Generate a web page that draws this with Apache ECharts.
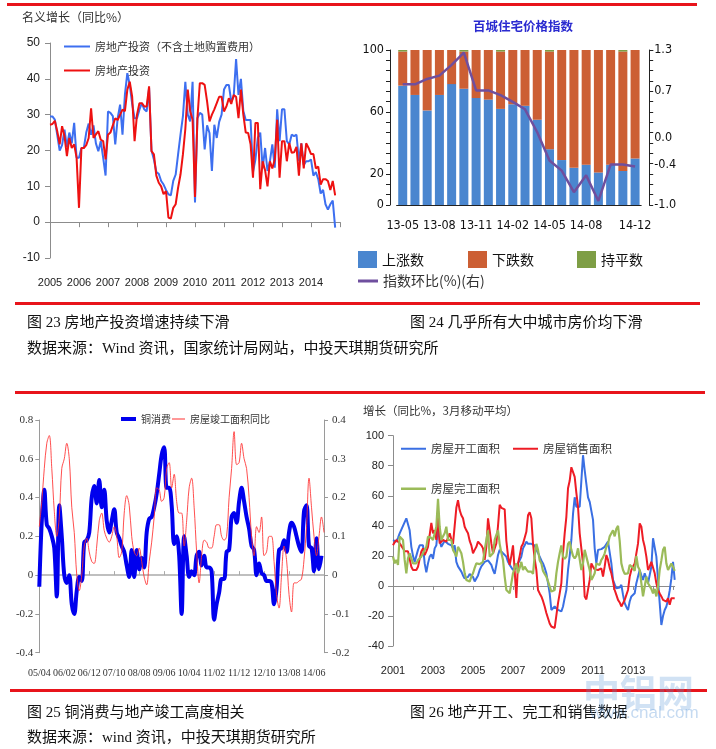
<!DOCTYPE html>
<html><head><meta charset="utf-8">
<script src="https://cdn.jsdelivr.net/npm/echarts@6/dist/echarts.min.js"></script>
<style>
body{margin:0;background:#fff;width:716px;height:749px;overflow:hidden;position:relative;}
#c{position:absolute;left:0;top:0;width:716px;height:749px;}
.rl{position:absolute;background:#e8141b;height:3px;z-index:2;}
.cap{position:absolute;z-index:2;font-size:15px;line-height:18px;color:#111;white-space:nowrap;font-family:"Liberation Serif","Noto Sans CJK SC",serif;}
.wm{position:absolute;z-index:3;white-space:nowrap;font-family:"Noto Sans CJK SC",sans-serif;}
</style></head>
<body>
<div id="c"></div>
<div class="rl" style="left:7px;top:3px;width:690px;"></div>
<div class="rl" style="left:15px;top:302px;width:685px;"></div>
<div class="rl" style="left:15px;top:391px;width:690px;"></div>
<div class="rl" style="left:10px;top:689px;width:697px;"></div>
<div class="cap" style="left:27px;top:313px;">图 23 房地产投资增速持续下滑</div>
<div class="cap" style="left:410px;top:313px;">图 24 几乎所有大中城市房价均下滑</div>
<div class="cap" style="left:27px;top:339px;">数据来源：Wind 资讯，国家统计局网站，中投天琪期货研究所</div>
<div class="cap" style="left:27px;top:703px;">图 25 铜消费与地产竣工高度相关</div>
<div class="cap" style="left:410px;top:703px;">图 26 地产开工、完工和销售数据</div>
<div class="cap" style="left:27px;top:728px;">数据来源：wind 资讯，中投天琪期货研究所</div>
<div class="wm" style="left:583px;top:664px;font-size:37px;font-weight:bold;color:rgba(90,150,215,0.28);">中铝网</div>
<div class="wm" style="left:590px;top:703px;font-size:17px;color:rgba(90,150,215,0.35);font-family:'Liberation Sans',sans-serif;">www.cnal.com</div>
<script>
// ---------- helpers ----------
function months(y, m, n) {
  const out = [];
  for (let k = 0; k < n; k++) {
    const yy = y + Math.floor((m - 1 + k) / 12), mm = (m - 1 + k) % 12 + 1;
    out.push(yy + '-' + String(mm).padStart(2, '0'));
  }
  return out;
}
// ---------- chart 1 data (2005-01 .. 2014-11) ----------
const cat1 = months(2005, 1, 121);
const invExLand = [
  29.5,29.5,28.6,24.4,20,21.5,25.8,21,25,22,27.7,18,
  18,20.7,20.7,25,27.5,24.4,27,22,19.8,22.6,18,13,
  30.9,30.5,29.6,21.7,29,32.8,24.4,35.6,41.6,38.3,33,29,
  29,31.4,33.2,31.5,30.9,37.4,20,17.5,14,13.5,11.5,10.5,
  9,7.8,7.5,11.5,13.3,18.9,24.4,29.5,39.2,30,28.1,39.2,
  5.5,29,30.5,30,20.3,27,24.9,14.3,27.2,23.5,28,30,
  37,38.3,38.3,33.7,35,45.5,35.5,40,31,28.5,28.5,28.5,
  14,17.5,23.5,25,15,20.7,14.3,17,21.7,15.2,31.5,22.6,
  31.5,31.5,22.6,21.7,24.4,24,24.4,17,22,16,17,17,
  17.5,13,14,12,8,9,5,3.5,5,6,-1.5
];
const inv = [
  27.2,27.4,28.3,25.4,21.7,26.8,24,18.4,23.5,20.7,21.7,18,
  4,20.7,20.7,21.5,23.5,31.8,23.5,24.5,25.4,23,22.6,17.5,
  24.4,25,27,29,28.5,30,31.4,31,37,39.2,35,22.6,
  30,33.2,33.2,32.3,32.3,37.9,19.8,18.9,13,11,10,7.8,
  8.7,1.3,1,4,5,9.6,13.3,18.9,26,37,31,28.6,
  7,29,38.8,38.8,38.3,33.7,28.1,30,31.5,33.2,35,35,
  30.9,32.3,34.6,33,35.5,35,29,37,30,25,24.9,21.7,
  12.4,27.7,27.7,9.2,17,14.5,10,17,15,17.5,28.6,12.4,
  22.6,22.6,17,22.1,19.4,19.5,21,13,22,15,22,20.7,
  19,19,15,15.5,10.5,12,12,11.5,9,11.5,7.5
];
// ---------- chart 2 data ----------
const months2 = ['13-05','13-06','13-07','13-08','13-09','13-10','13-11','13-12','14-01','14-02','14-03','14-04','14-05','14-06','14-07','14-08','14-09','14-10','14-11','14-12'];
const upCount   = [77,71,61,71,78,75,69,68,62,65,64,55,36,29,24,26,21,26,22,30];
const downCount = [22,29,39,29,22,24,31,32,37,35,36,45,63,71,76,74,79,74,77,70];
const flatCount = [1,0,0,0,0,1,0,0,1,0,0,0,1,0,0,0,0,0,1,0];
const indexMoM  = [0.79,0.79,0.87,0.92,1.08,1.26,0.70,0.70,0.63,0.53,0.42,0.08,-0.34,-0.49,-0.81,-0.56,-0.94,-0.40,-0.40,-0.43];
const labelIdx2 = [0,3,6,9,12,15,19];
const leftLabels2 = [0,20,60,100];
const rightLabels2 = [-1,-0.4,0,0.7,1.3];
// ---------- chart 3 data (2005-04 .. 2014-10) ----------
const cat3 = months(2005, 4, 115);
const copper = [
  -0.06,0.28,0.44,0.26,0.24,0.20,0.14,-0.11,0.36,0.20,
  0.0,-0.04,0.0,-0.15,-0.20,-0.08,-0.01,-0.03,0.17,0.18,
  0.22,0.40,0.46,0.37,0.49,0.35,0.44,0.28,0.22,0.28,
  0.34,0.22,0.19,0.15,0.12,0.05,-0.01,0.13,-0.01,0.13,
  0.03,0.09,0.04,0.22,0.29,0.30,0.35,0.42,0.52,0.62,
  0.66,0.45,0.45,0.36,0.16,0.20,0.10,-0.20,0.20,0.10,
  -0.01,0.02,0.0,0.10,0.12,0.05,0.10,0.04,0.04,0.02,
  -0.23,-0.15,-0.09,-0.02,-0.02,0.12,0.13,0.30,0.32,0.27,
  0.38,0.45,0.38,0.30,0.24,0.15,0.13,0.0,0.06,0.01,
  0.0,-0.03,-0.03,-0.04,-0.15,-0.07,0.13,0.14,0.18,0.12,
  0.22,0.27,0.25,0.20,0.15,0.12,0.33,0.36,0.15,0.14,
  0.02,0.19,0.03,0.10
];
const completionYoY = [
  0.125,0.19,0.275,0.34,0.36,0.275,0.165,0.10,0.15,0.275,
  0.30,0.34,0.30,0.175,0.11,0.0,-0.04,0.0,0.075,0.095,
  0.06,0.035,0.03,0.075,0.14,0.16,0.115,0.095,0.085,0.10,
  0.125,0.10,0.045,0.06,0.16,0.205,0.18,0.10,0.06,0.05,
  0.07,0.035,-0.005,-0.025,0.035,0.085,0.15,0.225,0.22,0.19,
  0.20,0.275,0.29,0.225,0.26,0.19,0.16,0.16,0.075,0.14,
  0.225,0.25,0.175,0.06,-0.02,0.05,0.09,0.085,0.07,0.07,
  0.10,0.13,0.13,0.10,0.09,0.10,0.20,0.275,0.37,0.285,
  0.29,0.34,0.30,0.275,0.20,0.10,0.05,0.125,0.11,0.15,
  0.05,0.06,0.10,0.10,0.035,-0.05,-0.085,0.0,0.075,0.04,
  -0.05,-0.095,-0.02,-0.02,-0.015,-0.01,0.04,0.125,0.25,0.175,
  0.10,0.05,0.10,0.15,0.11
];
// ---------- chart 4 data (2001-01 .. 2015-02) ----------
const cat4 = months(2001, 1, 170);
const startArea = [
  30.5,30,29.5,32,35,37.5,40,42.5,45,45.6,
  37,26,20,16,15.5,24,27,28,27,15,
  9,15,19.5,21,18,25,27,40,30,26,
  26,30,29.5,28,28,27,25,27,16,13,
  12,9.5,7,5,4,6,8,7,6,3,
  5,7,10.6,13,14,16,16.5,17,16,14,
  10.6,8,14,20.6,24,23,21.7,20.6,19.5,16,
  14,13,10.6,10,12,15,17,19.5,25,27,
  29.5,28,28,28,27.5,27,24,22,19.5,17,
  15,12,8.4,2,-5,-16,-15,-13.7,-13,-16,
  -16.5,-17,-13.7,-8,-2.7,10.6,20,30.6,48,59,
  52.7,52,52.7,70,87,77,68,59,56,50,
  44,25,15,24,25,24.5,24,26,27,29.5,
  28.3,15,4,1,-1.6,-2.2,-1,0.7,-6,-11.5,
  -14,-16,-10.4,-7,-6,-4.9,1.8,6.2,10.6,7,
  4,8.4,5,1.8,7.3,12.8,31.7,30.6,19.5,4,
  -11.5,-26,-20,-16,-13.7,-9.3,-3,5,16,4
];
const salesArea = [
  27,29,30.6,31.7,28.3,27,25,23,21.7,23,
  24,12.8,10.6,10,10.6,12.8,18,23,25,20.6,
  23,26,25,42,35,37,30.6,50,28.3,29,
  30.6,30,29.5,32,35,31,28,40,52,57,
  50.5,47,45,39.4,37,35,30,27,21.7,24,
  26,29.5,28.3,27,25,17.3,26,45,37,28.3,
  21.7,25,28.3,40,54,52,51.5,51,30,20,
  14,20,27,10,-8,15,20,26,28,32,
  36,47,49,45,28,18,10.6,-2.7,-5,-7,
  -10,-13.7,-18,-21.5,-25,-27,-28,-28,-27,-11.5,
  -5,1.8,21.7,35,46,65,70,79,79,72.6,
  62,52.7,35,25,15,-7,-9,-9.3,4,15,
  12.8,11,10.6,10.6,11,11.7,6.2,13,20.6,17.3,
  12,8.4,3,-2.7,-6,-9.3,-11,-13.7,-13.7,-9.3,
  -6,-2.7,6.2,10.6,13,15,16,28.3,41.6,39.4,
  30.6,26,19.5,10.6,13,16,15,8.4,1.8,-2.7,
  -5,-7,-9.3,-10,-10.4,-8.2,-12.6,-8.2,-8,-8.2
];
const completedArea = [
  19.5,15,17.3,14,32.8,34,30.6,17.3,8.4,18.4,
  21.7,20.6,15,14,15,17.3,18,19.5,21.7,24,
  26,32.8,34,32,30.6,30.6,39.4,58,39.4,30.6,
  33,35,39.4,30.6,31,30.6,24,22,19.5,26,
  24,21.7,16,8.4,4,3,2.9,6.2,8.4,12,
  15,15,14.5,14,16,24,30.6,37,19.5,20,
  21.7,30.6,34,37,28,22,17.3,6.2,-2.7,-4,
  -4.9,1.8,8.4,12,15,8.4,12,16,10.6,12.8,
  11,9.5,10,9.5,8,20,28,24,17,15,
  10,8,6.2,3,1.8,-3.8,-3,-2.7,8.4,16,
  21.7,27,19.5,18,19.5,28,29.5,24,20,18.4,
  20,25,26,10.6,15,24,25,15,10.6,4,
  6,8.4,15,14.5,14,17.3,19,21.7,26,28,
  33,35,37,33,38,40,30,15,10.6,8,
  9,8.4,14,15,12,10,20,12.8,10.6,1.8,
  -7,-0.4,6.2,1.8,3,-2,-4.9,-2,-7,-0.4,
  10.6,17,24,26,15,10.6,10.6,15,12.8,10
];

// ---------- styles ----------
const CJK = '"Noto Sans CJK SC","Noto Sans",sans-serif';
const SANS = '"Liberation Sans",Arial,sans-serif';
const NARROW = '"Liberation Sans Narrow","DejaVu Sans Condensed","Liberation Sans",sans-serif';
const SERIF = '"Liberation Serif","Times New Roman",serif';
const G1 = '#8c8c8c', G3 = '#9a9a9a', K2 = '#222';

function lineLegend(names, left, top, w, h, size, gap) {
  return {data:names, left:left, top:top, padding:0, icon:'rect', itemWidth:w, itemHeight:h, itemGap:gap || 10,
          textStyle:{fontSize:size, color:'#333', fontFamily:CJK}};
}

const chart = echarts.init(document.getElementById('c'));
chart.setOption({
  animation: false,
  backgroundColor: '#fff',
  title: [
    {text:'名义增长（同比%）', left:22, top:11, padding:0, textStyle:{fontSize:12, fontWeight:'normal', color:'#333', fontFamily:CJK}},
    {text:'百城住宅价格指数', left:473, top:20, padding:0, textStyle:{fontSize:12.5, fontWeight:'bold', color:'#2a2ad0', fontFamily:CJK}},
    {text:'增长（同比%，3月移动平均）', left:363, top:405, padding:0, textStyle:{fontSize:11.5, fontWeight:'normal', color:'#333', fontFamily:CJK}}
  ],
  legend: [
    lineLegend(['房地产投资（不含土地购置费用）'], 64, 41, 26, 2, 11),
    lineLegend(['房地产投资'], 64, 65, 26, 2, 11),
    {data:['上涨数'], left:358, top:251, padding:0, icon:'rect', itemWidth:19, itemHeight:17, textStyle:{fontSize:14, color:'#111', fontFamily:CJK}},
    {data:['下跌数'], left:468, top:251, padding:0, icon:'rect', itemWidth:19, itemHeight:17, textStyle:{fontSize:14, color:'#111', fontFamily:CJK}},
    {data:['持平数'], left:577, top:251, padding:0, icon:'rect', itemWidth:19, itemHeight:17, textStyle:{fontSize:14, color:'#111', fontFamily:CJK}},
    lineLegend(['指数环比(%)(右)'], 358, 274, 20, 3, 14),
    lineLegend(['铜消费'], 121, 414, 15, 4, 10),
    lineLegend(['房屋竣工面积同比'], 172, 414, 13, 1, 10),
    lineLegend(['房屋开工面积','房屋销售面积'], 401, 443, 25, 2, 11.5, 13),
    lineLegend(['房屋完工面积'], 401, 483, 25, 2.5, 11.5)
  ],
  grid: [
    {left:50, top:43, width:290, height:215},
    {left:396.6, top:50, width:244.6, height:155},
    {left:39.3, top:420, width:284.7, height:232.7},
    {left:393, top:435.7, width:281.7, height:210.3}
  ],
  xAxis: [
    {type:'category', gridIndex:0, data:cat1, boundaryGap:false, position:'bottom',
     axisLine:{onZero:true, lineStyle:{color:G1}}, axisTick:{interval:(i)=>i%12===0, length:5, lineStyle:{color:G1}},
     axisLabel:{show:false}, splitLine:{show:false}},
    {type:'category', gridIndex:0, data:cat1, boundaryGap:false, position:'bottom',
     axisLine:{show:false, onZero:false}, axisTick:{show:false},
     axisLabel:{interval:(i)=>i%12===0 && i<120, hideOverlap:false, formatter:(v)=>v.slice(0,4), margin:19, fontSize:11, color:'#222', fontFamily:SANS}},
    {type:'category', gridIndex:1, data:months2, position:'bottom',
     axisLine:{lineStyle:{color:K2}}, axisTick:{alignWithLabel:true, interval:(i)=>labelIdx2.includes(i), length:6, lineStyle:{color:K2}},
     axisLabel:{interval:(i)=>labelIdx2.includes(i), hideOverlap:false, margin:14, fontSize:12.5, color:'#111', fontFamily:NARROW}},
    {type:'category', gridIndex:2, data:cat3, boundaryGap:false, position:'bottom',
     axisLine:{onZero:true, lineStyle:{color:'#aaa', width:1.5}}, axisTick:{interval:(i)=>i%10===0, inside:true, length:4, lineStyle:{color:'#aaa'}},
     axisLabel:{show:false}},
    {type:'category', gridIndex:2, data:cat3, boundaryGap:false, position:'bottom',
     axisLine:{show:false, onZero:false}, axisTick:{show:false},
     axisLabel:{interval:(i)=>i%10===0, hideOverlap:false, showMinLabel:true, formatter:(v)=>v.slice(2,4)+'/'+v.slice(5,7), margin:16, fontSize:10, color:'#333', fontFamily:SERIF}},
    {type:'category', gridIndex:3, data:cat4, boundaryGap:false, position:'bottom',
     axisLine:{onZero:true, lineStyle:{color:G1}}, axisTick:{interval:(i)=>i%12===0, length:4, lineStyle:{color:G1}},
     axisLabel:{show:false}},
    {type:'category', gridIndex:3, data:cat4, boundaryGap:false, position:'bottom',
     axisLine:{show:false, onZero:false}, axisTick:{show:false},
     axisLabel:{interval:(i)=>i%24===0 && i<168, hideOverlap:false, formatter:(v)=>v.slice(0,4), margin:19, fontSize:11, color:'#222', fontFamily:SANS}}
  ],
  yAxis: [
    {type:'value', gridIndex:0, min:-10, max:50, interval:10,
     axisLine:{show:true, lineStyle:{color:G1}}, axisTick:{show:true, length:5, lineStyle:{color:G1}}, splitLine:{show:false},
     axisLabel:{fontSize:12, color:'#222', fontFamily:SANS, margin:10}},
    {type:'value', gridIndex:1, min:0, max:100, interval:100/15, offset:6.6,
     axisLine:{show:true, lineStyle:{color:K2}}, axisTick:{show:true, length:4, lineStyle:{color:K2}}, splitLine:{show:false},
     axisLabel:{fontSize:12.5, color:'#111', fontFamily:NARROW, margin:6,
       formatter:(v)=>{const r=Math.round(v); return (Math.abs(v-r)<0.01 && leftLabels2.includes(r)) ? String(r) : '';}}},
    {type:'value', gridIndex:1, position:'right', min:-1, max:1.3, interval:2.3/15, offset:8,
     axisLine:{show:true, lineStyle:{color:K2}}, axisTick:{show:true, length:4, lineStyle:{color:K2}}, splitLine:{show:false},
     axisLabel:{customValues:rightLabels2, fontSize:12.5, color:'#111', fontFamily:NARROW, margin:5, formatter:(v)=>v.toFixed(1)}},
    {type:'value', gridIndex:2, min:-0.4, max:0.8, interval:0.2,
     axisLine:{show:true, lineStyle:{color:G3}}, axisTick:{show:true, length:4, lineStyle:{color:G3}}, splitLine:{show:false},
     axisLabel:{fontSize:11, color:'#333', fontFamily:SERIF, margin:6, formatter:(v)=>Math.abs(v)<1e-9?'0':v.toFixed(1)}},
    {type:'value', gridIndex:2, position:'right', min:-0.2, max:0.4, interval:0.1,
     axisLine:{show:true, lineStyle:{color:G3}}, axisTick:{show:true, length:4, lineStyle:{color:G3}}, splitLine:{show:false},
     axisLabel:{fontSize:11, color:'#333', fontFamily:SERIF, margin:8, formatter:(v)=>Math.abs(v)<1e-9?'0':v.toFixed(1)}},
    {type:'value', gridIndex:3, min:-40, max:100, interval:20,
     axisLine:{show:true, lineStyle:{color:G1}}, axisTick:{show:true, length:5, lineStyle:{color:G1}}, splitLine:{show:false},
     axisLabel:{fontSize:11, color:'#222', fontFamily:SANS, margin:9}}
  ],
  series: [
    {name:'房地产投资（不含土地购置费用）', type:'line', xAxisIndex:0, yAxisIndex:0, data:invExLand, symbol:'none',
     lineStyle:{width:2, color:'#3d6ff0'}, itemStyle:{color:'#3d6ff0'}},
    {name:'房地产投资', type:'line', xAxisIndex:0, yAxisIndex:0, data:inv, symbol:'none',
     lineStyle:{width:2, color:'#ee1111'}, itemStyle:{color:'#ee1111'}},
    {name:'上涨数', type:'bar', xAxisIndex:2, yAxisIndex:1, stack:'c', barWidth:9, data:upCount, itemStyle:{color:'#4a86cf'}},
    {name:'下跌数', type:'bar', xAxisIndex:2, yAxisIndex:1, stack:'c', barWidth:9, data:downCount, itemStyle:{color:'#cc5f34'}},
    {name:'持平数', type:'bar', xAxisIndex:2, yAxisIndex:1, stack:'c', barWidth:9, data:flatCount, itemStyle:{color:'#7e9e45'}},
    {name:'指数环比(%)(右)', type:'line', xAxisIndex:2, yAxisIndex:2, data:indexMoM, symbol:'none',
     lineStyle:{width:2.5, color:'#6f4f9e'}, itemStyle:{color:'#6f4f9e'}},
    {name:'铜消费', type:'line', xAxisIndex:3, yAxisIndex:3, data:copper, symbol:'none', smooth:0.35,
     lineStyle:{width:4, color:'#0000ee'}, itemStyle:{color:'#0000ee'}},
    {name:'房屋竣工面积同比', type:'line', xAxisIndex:3, yAxisIndex:4, data:completionYoY, symbol:'none', smooth:0.35,
     lineStyle:{width:1, color:'#ff3030', opacity:0.85}, itemStyle:{color:'#ff3030'}},
    {name:'房屋开工面积', type:'line', xAxisIndex:5, yAxisIndex:5, data:startArea, symbol:'none',
     lineStyle:{width:2, color:'#3a6fe3'}, itemStyle:{color:'#3a6fe3'}},
    {name:'房屋销售面积', type:'line', xAxisIndex:5, yAxisIndex:5, data:salesArea, symbol:'none',
     lineStyle:{width:2, color:'#ee1c25'}, itemStyle:{color:'#ee1c25'}},
    {name:'房屋完工面积', type:'line', xAxisIndex:5, yAxisIndex:5, data:completedArea, symbol:'none',
     lineStyle:{width:2.2, color:'#9bbb59'}, itemStyle:{color:'#9bbb59'}}
  ]
});
</script>
</body></html>
